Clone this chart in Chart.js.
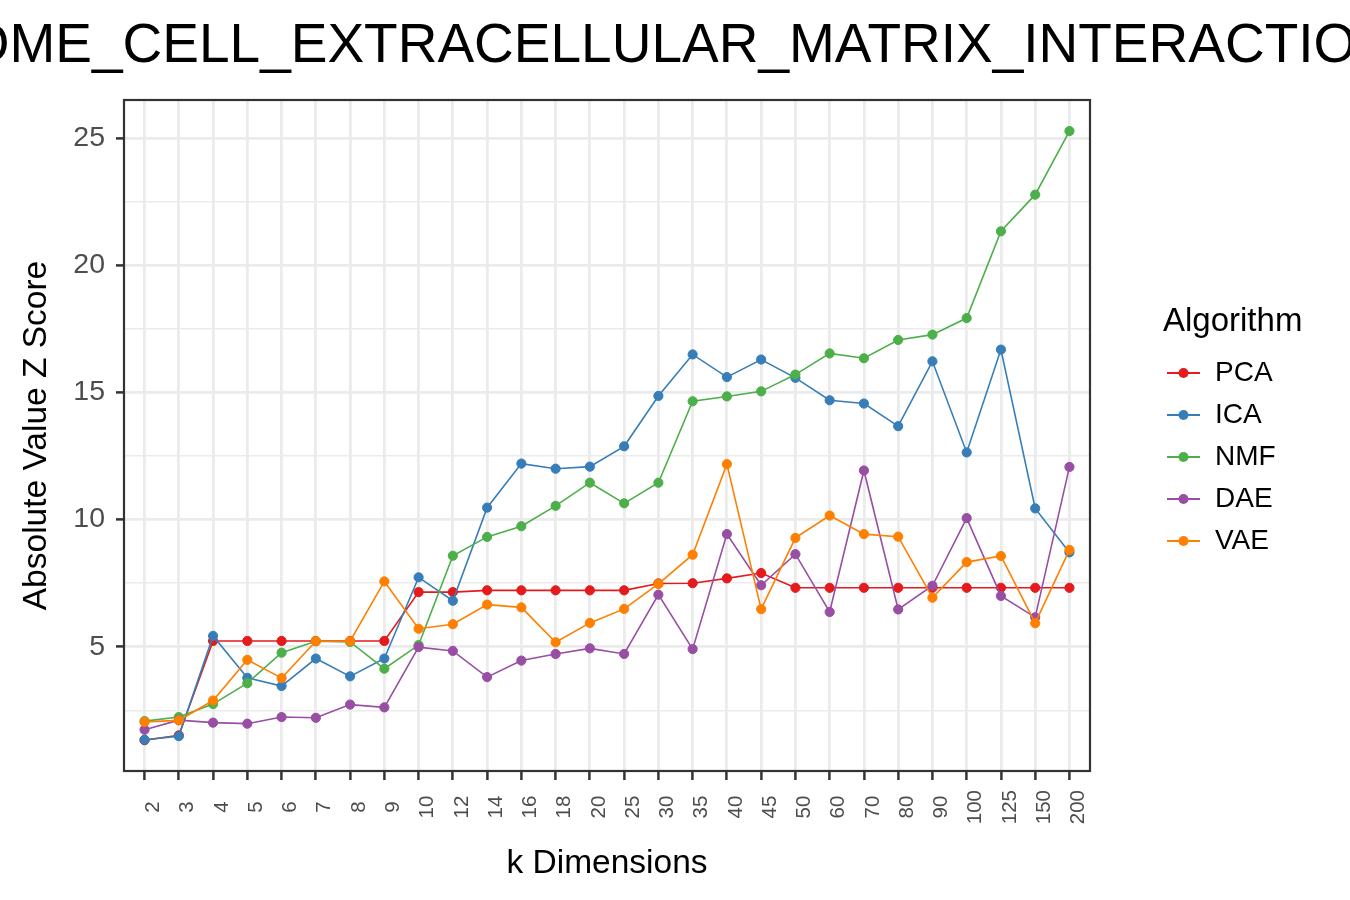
<!DOCTYPE html>
<html><head><meta charset="utf-8">
<script src="https://cdn.jsdelivr.net/npm/chart.js@4.4.1/dist/chart.umd.min.js"></script>
<style>html,body{margin:0;padding:0;background:#fff;overflow:hidden;} #wrap{width:1350px;height:900px;}</style>
</head><body><div id="wrap"><canvas id="c" width="1350" height="900"></canvas></div>
<script>
const titleText = 'REACTOME_CELL_EXTRACELLULAR_MATRIX_INTERACTIONS';
const xTitle = 'k Dimensions';
const yTitle = 'Absolute Value Z Score';
const legendTitle = 'Algorithm';

const categories = ['2','3','4','5','6','7','8','9','10','12','14','16','18','20','25','30','35','40','45','50','60','70','80','90','100','125','150','200'];

const seriesNames = ['PCA','ICA','NMF','DAE','VAE'];
const seriesColors = ['#E41A1C','#377EB8','#4DAF4A','#984EA3','#FF7F00'];

const pcaValues = [1.33,1.52,5.23,5.23,5.23,5.23,5.23,5.23,7.15,7.15,7.22,7.22,7.22,7.22,7.22,7.49,7.50,7.69,7.90,7.32,7.32,7.32,7.32,7.32,7.32,7.32,7.32,7.32];
const icaValues = [1.35,1.49,5.43,3.78,3.46,4.54,3.84,4.54,7.73,6.81,10.47,12.20,12.00,12.08,12.88,14.86,16.49,15.60,16.29,15.57,14.69,14.56,13.67,16.22,12.64,16.68,10.44,8.71];
const nmfValues = [2.08,2.24,2.75,3.57,4.77,5.22,5.19,4.14,5.07,8.58,9.32,9.74,10.54,11.45,10.64,11.45,14.65,14.84,15.04,15.70,16.53,16.34,17.06,17.27,17.92,21.33,22.77,25.27];
const daeValues = [1.74,2.12,2.02,1.98,2.24,2.21,2.73,2.62,4.99,4.84,3.81,4.46,4.72,4.94,4.72,7.05,4.91,9.43,7.42,8.64,6.37,11.93,6.47,7.40,10.06,7.00,6.16,12.07];
const vaeValues = [2.05,2.11,2.89,4.49,3.77,5.22,5.22,7.57,5.71,5.89,6.66,6.55,5.18,5.94,6.49,7.47,8.62,12.18,6.48,9.28,10.16,9.43,9.33,6.93,8.33,8.57,5.93,8.81];

const yMajorTicks = [5,10,15,20,25];
const yMinorTicks = [2.5,7.5,12.5,17.5,22.5];
const yMin = 0.12, yMax = 26.49;

const seriesValues = [pcaValues, icaValues, nmfValues, daeValues, vaeValues];

const FONT = "'Liberation Sans', Arial, Helvetica, sans-serif";
const GRID = '#ebebeb';
const AXIS = '#333333';

function makeIcon(color) {
  const c = document.createElement('canvas');
  c.width = 46; c.height = 12;
  const g = c.getContext('2d');
  g.strokeStyle = color; g.lineWidth = 2;
  g.beginPath(); g.moveTo(1, 6); g.lineTo(34, 6); g.stroke();
  g.fillStyle = color;
  g.beginPath(); g.arc(17.5, 6, 5, 0, Math.PI * 2); g.fill();
  return c;
}
const legendIcons = seriesColors.map(makeIcon);

function padLabel(s) {
  return s + ' '.repeat(3 - s.length);
}

const titlePlugin = {
  id: 'ggTitle',
  afterDraw(chart) {
    const {ctx, chartArea} = chart;
    ctx.save();
    ctx.font = '55px ' + FONT;
    ctx.fillStyle = '#000';
    ctx.textAlign = 'center';
    ctx.textBaseline = 'alphabetic';
    ctx.fillText(titleText, (chartArea.left + chartArea.right) / 2, 62);
    ctx.restore();
  }
};
const framePlugin = {
  id: 'ggFrame',
  afterDatasetsDraw(chart) {
    const {ctx, chartArea} = chart;
    ctx.save();
    ctx.strokeStyle = AXIS;
    ctx.lineWidth = 2.2;
    ctx.strokeRect(chartArea.left, chartArea.top, chartArea.right - chartArea.left, chartArea.bottom - chartArea.top);
    ctx.restore();
  }
};
const legendWidthPlugin = {
  id: 'legendWidth',
  beforeLayout(chart) {
    const lg = chart.legend;
    if (lg && !lg.__patched) {
      const origFit = lg.fit;
      lg.fit = function () { origFit.call(this); this.width = 187; };
      lg.__patched = true;
    }
  }
};

const datasets = seriesNames.map((name, i) => ({
  label: name,
  data: seriesValues[i].map((v, j) => ({x: j, y: v})),
  borderColor: seriesColors[i],
  backgroundColor: seriesColors[i],
  pointBackgroundColor: seriesColors[i],
  pointBorderColor: seriesColors[i],
  borderWidth: 1.6,
  pointRadius: 4.6,
  pointBorderWidth: 1,
  pointHoverRadius: 4.6,
  tension: 0,
  fill: false,
  order: seriesNames.length - i,
  xAxisID: 'x',
  yAxisID: 'y'
}));

new Chart(document.getElementById('c'), {
  type: 'line',
  data: {datasets},
  plugins: [legendWidthPlugin, titlePlugin, framePlugin],
  options: {
    responsive: false,
    animation: false,
    devicePixelRatio: 1,
    layout: {padding: {left: 0, right: 0, top: 100, bottom: 0}},
    plugins: {
      tooltip: {enabled: false},
      title: {display: false},
      legend: {
        position: 'right',
        align: 'center',
        fullSize: false,
        title: {display: true, text: legendTitle, position: 'start', color: '#000',
                font: {size: 33, family: FONT}, padding: {top: 3.4, bottom: 0}},
        labels: {
          usePointStyle: true,
          pointStyleWidth: 24,
          padding: 14,
          color: '#000',
          font: {size: 28, family: FONT},
          generateLabels: (chart) => chart.data.datasets.map((ds, i) => ({
            text: ds.label,
            pointStyle: legendIcons[i],
            fillStyle: ds.borderColor,
            strokeStyle: ds.borderColor,
            lineWidth: 0,
            hidden: false,
            datasetIndex: i
          }))
        }
      }
    },
    scales: {
      x: {
        type: 'linear',
        position: 'bottom',
        min: -0.6,
        max: categories.length - 1 + 0.6,
        afterBuildTicks: (s) => { s.ticks = categories.map((c, i) => ({value: i})); },
        afterFit: (s) => { s.height = 129; },
        ticks: {
          autoSkip: false,
          minRotation: 90,
          maxRotation: 90,
          padding: 10,
          labelOffset: 9,
          color: '#4d4d4d',
          font: {size: 20.5, family: FONT},
          callback: (v) => padLabel(categories[v] || '')
        },
        grid: {color: GRID, lineWidth: 2.8, drawTicks: true, tickLength: 9, tickColor: AXIS, tickWidth: 2.5},
        border: {display: false},
        title: {display: true, text: xTitle, color: '#000', font: {size: 33.5, family: FONT}, padding: {top: 0, bottom: 16}}
      },
      y: {
        type: 'linear',
        position: 'left',
        min: yMin,
        max: yMax,
        afterBuildTicks: (s) => { s.ticks = yMinorTicks.concat(yMajorTicks).sort((a, b) => a - b).map(v => ({value: v})); },
        afterFit: (s) => { s.width = 124; },
        ticks: {
          padding: 11,
          color: '#4d4d4d',
          font: {size: 28.5, family: FONT},
          callback: (v) => yMajorTicks.includes(v) ? String(v) : ''
        },
        grid: {
          color: GRID,
          lineWidth: (c) => yMajorTicks.includes(c.tick && c.tick.value) ? 2.8 : 1.5,
          drawTicks: true,
          tickLength: 8,
          tickColor: (c) => yMajorTicks.includes(c.tick && c.tick.value) ? AXIS : 'rgba(0,0,0,0)',
          tickWidth: 2.5
        },
        border: {display: false},
        title: {display: true, text: yTitle, color: '#000', font: {size: 33.5, family: FONT}, padding: {top: 17, bottom: 0}}
      },
      yR: {
        type: 'linear',
        position: 'right',
        display: true,
        grid: {display: false},
        ticks: {display: false},
        border: {display: false},
        afterFit: (s) => { s.width = 73; }
      }
    }
  }
});
</script>
</body></html>
